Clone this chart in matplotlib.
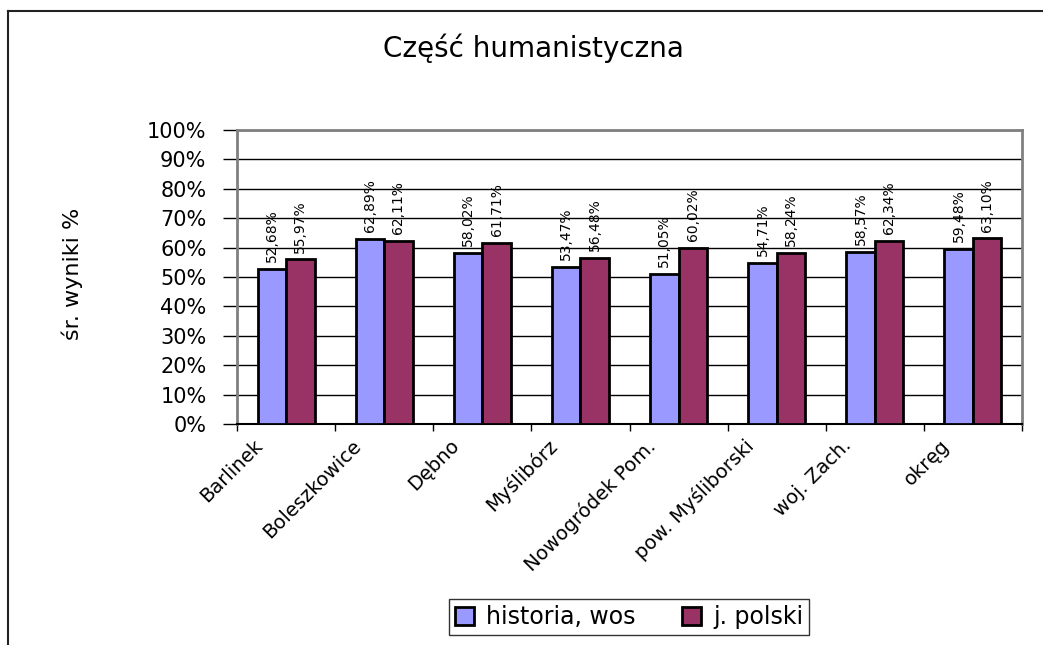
import matplotlib
matplotlib.use("Agg")
import matplotlib.pyplot as plt
import matplotlib.transforms as mtransforms
from matplotlib.lines import Line2D
import numpy as np

plt.rcParams['font.family'] = ['DejaVu Sans']

# data
categories = ['Barlinek', 'Boleszkowice', 'Dębno', 'Myślibórz', 'Nowogródek Pom.',
              'pow. Myśliborski', 'woj. Zach.', 'okręg']
historia = [52.68, 62.89, 58.02, 53.47, 51.05, 54.71, 58.57, 59.48]
polski = [55.97, 62.11, 61.71, 56.48, 60.02, 58.24, 62.34, 63.10]
series_names = ['historia, wos', 'j. polski']
y_ticks = [0, 10, 20, 30, 40, 50, 60, 70, 80, 90, 100]

fig = plt.figure(figsize=(10.43, 6.45), dpi=100)
ax = fig.add_axes([237/1043, 1 - 424/645, (1022 - 237)/1043, (424 - 130)/645])

x = np.arange(len(categories))
w = 0.29
b1 = ax.bar(x - w/2, historia, w, color='#9999FF', edgecolor='black', linewidth=2.0,
            label=series_names[0], zorder=3)
b2 = ax.bar(x + w/2, polski, w, color='#993366', edgecolor='black', linewidth=2.0,
            label=series_names[1], zorder=3)

# value labels, rotated like in the excel chart
for bars, vals in ((b1, historia), (b2, polski)):
    for r, v in zip(bars, vals):
        ax.annotate(f"{v:.2f}%".replace('.', ','),
                    (r.get_x() + r.get_width()/2, r.get_height()),
                    xytext=(0, 5), textcoords='offset points',
                    rotation=90, ha='center', va='bottom', fontsize=10, zorder=4)

ax.set_xlim(-0.5, len(categories) - 0.5)
ax.set_ylim(0, 100)
ax.set_yticks(y_ticks)
ax.set_yticklabels([f"{t}%" for t in y_ticks], fontsize=15)
ax.yaxis.grid(True, color='black', linewidth=1.0, zorder=0)
ax.tick_params(axis='y', direction='out', length=10, width=1, pad=12)

# ticks between categories, labels as rotated text shifted a bit left
ax.set_xticks(np.arange(len(categories) + 1) - 0.5)
ax.set_xticklabels([])
ax.tick_params(axis='x', direction='out', length=5, width=1)
trans = mtransforms.blended_transform_factory(ax.transData, ax.transAxes) + \
    mtransforms.ScaledTranslation(-33/100, -12/100, fig.dpi_scale_trans)
for i, c in enumerate(categories):
    ax.text(i, 0, c, transform=trans, rotation=45, rotation_mode='anchor',
            ha='right', va='top', fontsize=14)

for s in ('left', 'top', 'right'):
    ax.spines[s].set_color('#808080')
    ax.spines[s].set_linewidth(2)
ax.spines['bottom'].set_color('black')
ax.spines['bottom'].set_linewidth(1.5)

fig.text(533/1043, 1 - 48/645, 'Część humanistyczna', ha='center', va='center', fontsize=20)
fig.text(72/1043, 1 - 274/645, 'śr. wyniki %', rotation=90, ha='center', va='center', fontsize=16)

leg = fig.legend(handles=[b1, b2], loc='center', bbox_to_anchor=(629/1043, 1 - 617/645),
                 ncol=2, fontsize=17, frameon=True, fancybox=False, edgecolor='black',
                 handlelength=0.8, handleheight=0.8, handletextpad=0.5, columnspacing=2.0,
                 borderpad=0.25)
leg.get_frame().set_linewidth(1.0)

# outer chart border (only left and top visible in the reference)
fig.add_artist(Line2D([8/1043, 8/1043], [0, 1 - 11/645], color='#222222', linewidth=1.5))
fig.add_artist(Line2D([8/1043, 1], [1 - 11/645, 1 - 11/645], color='#222222', linewidth=1.5))

fig.savefig('out.png', dpi=100)
